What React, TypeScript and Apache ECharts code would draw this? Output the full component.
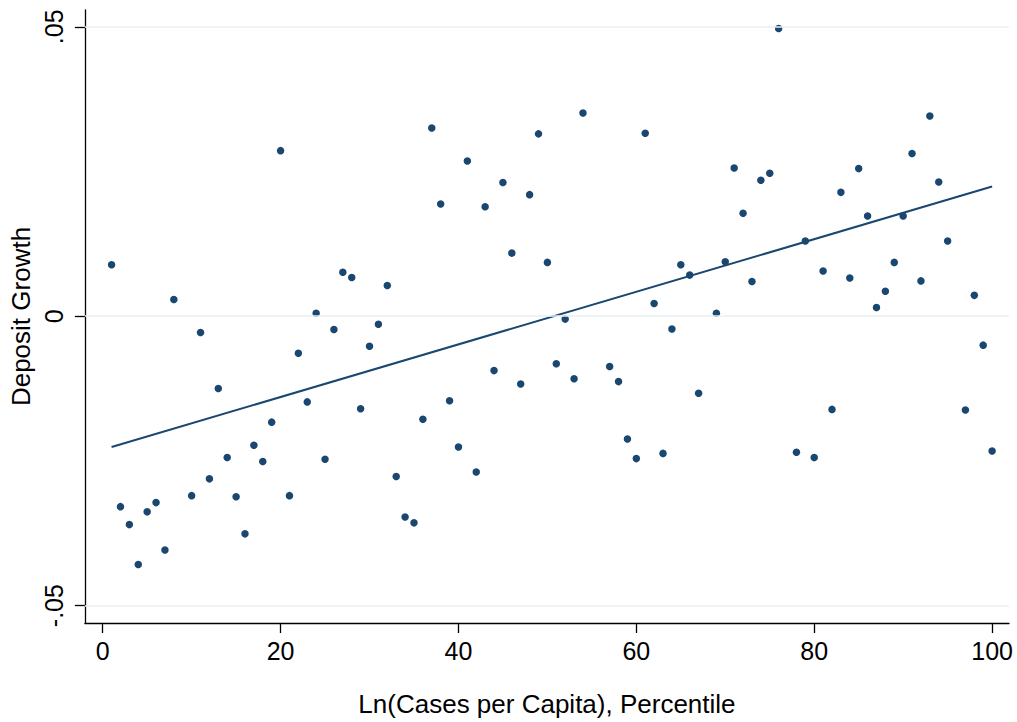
import React, { useEffect, useRef } from "react";
import * as echarts from "echarts";

// Percentile bins (x) and deposit growth (y)
const percentile = [
  1, 2, 3, 4, 5, 6, 7, 8, 10, 11, 12, 13, 14, 15, 16, 17, 18, 19, 20,
  21, 22, 23, 24, 25, 26, 27, 28, 29, 30, 31, 32, 33, 34, 35, 36, 37, 38, 39, 40,
  41, 42, 43, 44, 45, 46, 47, 48, 49, 50, 51, 52, 53, 54, 57, 58, 59, 60,
  61, 62, 63, 64, 65, 66, 67, 69, 70, 71, 72, 73, 74, 75, 76, 78, 79, 80,
  81, 82, 83, 84, 85, 86, 87, 88, 89, 90, 91, 92, 93, 94, 95, 97, 98, 99, 100,
];
const depositGrowth = [
  0.0089, -0.0329, -0.036, -0.0429, -0.0338, -0.0322, -0.0404, 0.0029, -0.031, -0.0028,
  -0.0281, -0.0125, -0.0244, -0.0312, -0.0376, -0.0223, -0.0251, -0.0183, 0.0286,
  -0.031, -0.0064, -0.0148, 0.0005, -0.0247, -0.0023, 0.0076, 0.0067, -0.016, -0.0052,
  -0.0014, 0.0053, -0.0277, -0.0347, -0.0357, -0.0178, 0.0325, 0.0194, -0.0146, -0.0226,
  0.0268, -0.0269, 0.0189, -0.0094, 0.0231, 0.0109, -0.0117, 0.021, 0.0315, 0.0093,
  -0.0082, -0.0005, -0.0108, 0.0351, -0.0087, -0.0113, -0.0212, -0.0246,
  0.0316, 0.0022, -0.0237, -0.0022, 0.0089, 0.0071, -0.0133, 0.0005, 0.0094,
  0.0256, 0.0178, 0.006, 0.0235, 0.0247, 0.0497, -0.0235, 0.013, -0.0244,
  0.0078, -0.0161, 0.0214, 0.0066, 0.0255, 0.0173, 0.0015, 0.0043, 0.0093, 0.0173,
  0.0281, 0.0061, 0.0346, 0.0232, 0.013, -0.0162, 0.0036, -0.005, -0.0233,
];

// Fitted line endpoints
const fitX = [1, 100];
const fitY = [-0.0226, 0.0224];

// Tick values and labels
const xTicks = [0, 20, 40, 60, 80, 100];
const yTicks = [-0.05, 0, 0.05];
const yTickLabels = ["-.05", "0", ".05"];

const NAVY = "#1a476f";
const FONT = "Liberation Sans, Arial, Helvetica, sans-serif";

export default function App() {
  const ref = useRef<HTMLDivElement>(null);

  useEffect(() => {
    if (!ref.current) return;
    const chart = echarts.init(ref.current, undefined, { renderer: "svg" });
    const labelFor = (v: number) => {
      const i = yTicks.findIndex((t) => Math.abs(t - v) < 1e-9);
      return i >= 0 ? yTickLabels[i] : "";
    };
    chart.setOption({
      animation: false,
      backgroundColor: "#ffffff",
      textStyle: { fontFamily: FONT },
      grid: { left: 82, right: 8, top: 10, bottom: 99 },
      xAxis: {
        type: "value",
        min: -2,
        max: 101.9,
        name: "Ln(Cases per Capita), Percentile",
        nameLocation: "middle",
        nameGap: 68,
        nameTextStyle: { fontSize: 26, color: "#000", fontFamily: FONT },
        axisLine: { show: true, onZero: false, lineStyle: { color: "#000", width: 1.3 } },
        axisTick: {
          show: true,
          length: 10,
          customValues: xTicks,
          lineStyle: { color: "#000", width: 1.3 },
        },
        axisLabel: {
          customValues: xTicks,
          fontSize: 25,
          color: "#000",
          margin: 15,
          fontFamily: FONT,
        },
        splitLine: { show: false },
      },
      yAxis: {
        type: "value",
        min: -0.053,
        max: 0.0529,
        name: "Deposit Growth",
        nameLocation: "middle",
        nameGap: 44,
        nameRotate: 90,
        nameTextStyle: { fontSize: 26, color: "#000", fontFamily: FONT },
        axisLine: { show: true, onZero: false, lineStyle: { color: "#000", width: 1.3 } },
        axisTick: {
          show: true,
          length: 10,
          customValues: yTicks,
          lineStyle: { color: "#000", width: 1.3 },
        },
        axisLabel: {
          customValues: yTicks,
          rotate: 90,
          fontSize: 25,
          color: "#000",
          margin: 18,
          fontFamily: FONT,
          formatter: (v: number) => labelFor(v),
        },
        splitLine: { show: false },
      },
      series: [
        {
          type: "line",
          data: [],
          silent: true,
          z: 1,
          markLine: {
            silent: true,
            symbol: "none",
            label: { show: false },
            lineStyle: { color: "#e8f0f2", width: 1.6, type: "solid" },
            data: yTicks.map((t) => ({ yAxis: t })),
          },
        },
        {
          type: "line",
          data: fitX.map((x, i) => [x, fitY[i]]),
          symbol: "none",
          z: 2,
          lineStyle: { color: NAVY, width: 2 },
        },
        {
          type: "scatter",
          data: percentile.map((x, i) => [x, depositGrowth[i]]),
          symbolSize: 7.5,
          z: 3,
          itemStyle: { color: NAVY, opacity: 1 },
        },
      ],
    });
    return () => chart.dispose();
  }, []);

  return (
    <div
      ref={ref}
      style={{ position: "fixed", left: 0, top: 0, width: 1017, height: 722, background: "#fff" }}
    />
  );
}
